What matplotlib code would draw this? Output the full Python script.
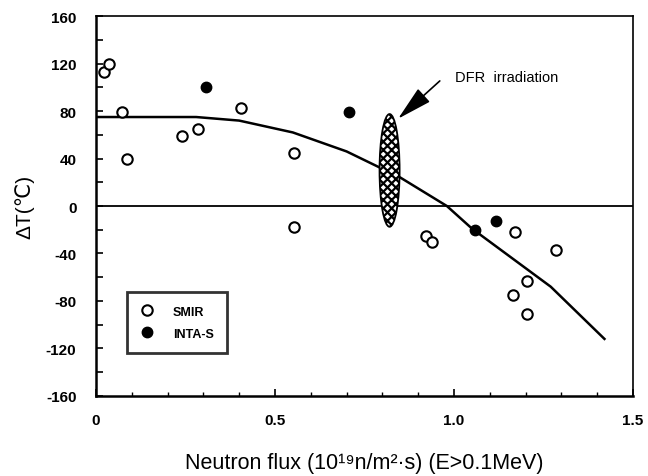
import matplotlib
matplotlib.use("Agg")
import matplotlib.pyplot as plt
from matplotlib.patches import Ellipse
from matplotlib.ticker import MultipleLocator, FixedLocator

plt.rcParams['font.family'] = ['Liberation Sans', 'DejaVu Sans']
plt.rcParams['axes.unicode_minus'] = False
plt.rcParams['hatch.linewidth'] = 1.6

# Data
smir_x = [0.022, 0.036, 0.073, 0.087, 0.24, 0.284, 0.405, 0.553, 0.553,
          0.922, 0.938, 1.17, 1.286, 1.205, 1.165, 1.205]
smir_y = [113, 120, 79, 40, 59, 65, 83, 45, -18,
          -25, -30, -22, -37, -63, -75, -91]
inta_x = [0.308, 0.706, 1.059, 1.118]
inta_y = [100, 79, -20, -13]
fit_x = [0.0, 0.28, 0.40, 0.55, 0.70, 0.85, 0.98, 1.05, 1.27, 1.42]
fit_y = [75, 75, 72, 62, 46, 24, 0, -19, -68, -112]
xticks = [0, 0.5, 1.0, 1.5]
xticklabels = ["0", "0.5", "1.0", "1.5"]
yticks = [-160, -120, -80, -40, 0, 40, 80, 120, 160]
dfr_center = (0.82, 30)
dfr_size = (0.056, 95)

fig = plt.figure(figsize=(6.48, 4.77), dpi=100)
ax = fig.add_axes([0.148, 0.168, 0.829, 0.796])

ax.axhline(0, color='black', lw=1.3, zorder=1)
ax.plot(fit_x, fit_y, color='black', lw=1.8, zorder=2)

ell = Ellipse(dfr_center, dfr_size[0], dfr_size[1], facecolor='white',
              edgecolor='black', hatch='xxxx', lw=1.3, zorder=3)
ax.add_patch(ell)

ax.plot(smir_x, smir_y, 'o', mfc='white', mec='black', mew=1.5, ms=7.5,
        ls='none', zorder=4, label='SMIR')
ax.plot(inta_x, inta_y, 'o', mfc='black', mec='black', ms=7.5,
        ls='none', zorder=4, label='INTA-S')

ax.annotate('', xy=(0.838, 72), xytext=(0.966, 107),
            arrowprops=dict(arrowstyle='-|>,head_length=2.2,head_width=0.55',
                            color='black', lw=1.2), zorder=5)
ax.text(1.003, 109, 'DFR  irradiation', fontsize=10.5, va='center', ha='left')

ax.set_xlim(0, 1.5)
ax.set_ylim(-160, 160)
ax.xaxis.set_major_locator(FixedLocator(xticks))
ax.set_xticklabels(xticklabels)
ax.xaxis.set_minor_locator(MultipleLocator(0.1))
ax.yaxis.set_major_locator(FixedLocator(yticks))
ax.yaxis.set_minor_locator(MultipleLocator(20))

ax.tick_params(axis='both', which='both', direction='in', top=False, right=False)
ax.tick_params(axis='y', which='major', length=5, width=1.2, pad=14, labelsize=11)
ax.tick_params(axis='y', which='minor', length=5, width=1.2)
ax.tick_params(axis='x', which='major', length=5, width=1.2, pad=12, labelsize=11)
ax.tick_params(axis='x', which='minor', length=3, width=1.0)
for lab in ax.get_xticklabels() + ax.get_yticklabels():
    lab.set_fontweight('bold')

for s in ax.spines.values():
    s.set_linewidth(1.2)
ax.spines['left'].set_linewidth(1.8)
ax.spines['bottom'].set_linewidth(1.8)

leg = ax.legend(loc='upper left', bbox_to_anchor=(0.057, 0.274), frameon=True,
                fancybox=False, edgecolor='black',
                prop={'weight': 'bold', 'size': 9}, handletextpad=1.6,
                borderpad=1.1, labelspacing=0.8, handlelength=1.0,
                borderaxespad=0)
leg.get_frame().set_linewidth(2.0)

ax.set_ylabel('ΔT(℃)', fontsize=15, labelpad=8)
ax.set_xlabel('Neutron flux (10¹⁹n/m²·s) (E>0.1MeV)', fontsize=15.5, labelpad=18)

fig.savefig('out.png', dpi=100)
